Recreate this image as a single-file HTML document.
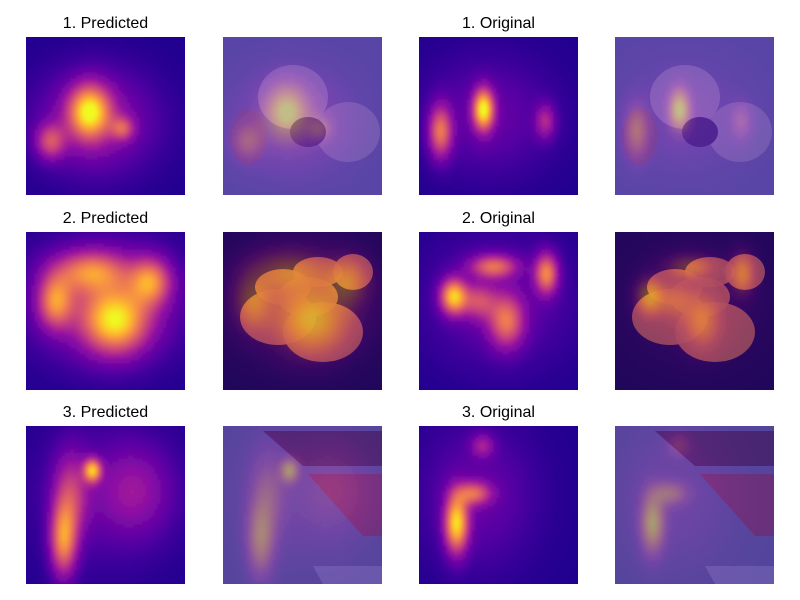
<!DOCTYPE html>
<html><head><meta charset="utf-8"><style>
html,body{margin:0;padding:0;background:#fff;width:800px;height:600px;overflow:hidden;font-family:"Liberation Sans",sans-serif;}
</style></head><body>
<svg id="fig" width="800" height="600" viewBox="0 0 800 600" xmlns="http://www.w3.org/2000/svg">
<defs id="defs"><filter id="soft" x="-10%" y="-10%" width="120%" height="120%"><feGaussianBlur stdDeviation="1.2"/></filter></defs>
</svg>
<script>
const colX = [26, 223, 419, 615];
const rowY = [37, 232, 426];
const W = 159, H = 158;
const titles = ["1. Predicted","1. Original","2. Predicted","2. Original","3. Predicted","3. Original"];
// heatmap blobs (gaussian): panel index 0..5 = P1,O1,P2,O2,P3,O3
const blobPanel = [0,0,0,0, 1,1,1,1, 2,2,2,2,2, 3,3,3,3,3,3, 4,4,4,4,4, 5,5,5,5];
const blobCx = [64,70,25,97, 65,22,127,70, 30,65,125,90,80, 35,75,128,88,60,80, 67,38,45,110,80, 38,55,64,60];
const blobCy = [75,85,105,92, 73,95,85,80, 70,40,50,90,70, 65,35,42,90,70,70, 45,115,70,65,70, 98,68,20,70];
const blobSx = [14,40,10,8, 7,8,7,45, 12,25,14,22,50, 9,16,8,12,12,50, 6,9,12,25,50, 8,12,8,40];
const blobSy = [18,35,12,8, 14,18,12,40, 18,14,16,22,40, 12,8,14,18,12,45, 8,25,30,30,50, 20,8,8,50];
const blobI  = [0.75,0.28,0.4,0.35, 0.85,0.55,0.3,0.15, 0.55,0.5,0.55,0.7,0.3, 0.75,0.5,0.6,0.5,0.35,0.15, 0.7,0.6,0.35,0.2,0.12, 0.8,0.45,0.25,0.15];
const baseLevel = 0.04;

const NS="http://www.w3.org/2000/svg";
const svg=document.getElementById('fig');
function plasma(t){
  const s=[[13,8,135],[84,2,163],[139,10,165],[185,50,137],[219,92,104],[244,136,73],[254,188,43],[240,249,33]];
  t=Math.min(1,Math.max(0,t));
  const p=Math.min(6.999,t*7), i=Math.floor(p), f=p-i;
  const c=s[i].map((v,k)=>Math.round(v+(s[i+1][k]-v)*f));
  return `rgb(${c[0]},${c[1]},${c[2]})`;
}
function mk(tag,attrs){const e=document.createElementNS(NS,tag);for(const k in attrs)e.setAttribute(k,attrs[k]);return e;}
function field(p,x,y){
  let v=baseLevel;
  for(let i=0;i<blobI.length;i++){
    if(blobPanel[i]!==p)continue;
    const dx=(x-blobCx[i])/blobSx[i], dy=(y-blobCy[i])/blobSy[i];
    v+=blobI[i]*Math.exp(-0.5*(dx*dx+dy*dy));
  }
  return v;
}

[[0,0],[0,2],[1,0],[1,2],[2,0],[2,2]].forEach(([r,c],i)=>{
  const t=mk('text',{x:colX[c]+W/2,y:rowY[r]-9,'text-anchor':'middle','font-size':'16',fill:'#000','font-family':'Liberation Sans, sans-serif'});
  t.textContent=titles[i];
  
  
  svg.appendChild(t);
});

const photoBg=['#7a70b4','#1e0c3a','#7470a4'];
for(let r=0;r<3;r++){
  for(const c of [1,3]){
    const g=mk('g',{});
    
    
    g.appendChild(mk('rect',{x:colX[c],y:rowY[r],width:W,height:H,fill:photoBg[r]}));
    const x=colX[c],y=rowY[r];
    if(r===0){
      g.appendChild(mk('ellipse',{cx:x+70,cy:y+60,rx:35,ry:32,fill:'#a698c8'}));
      g.appendChild(mk('ellipse',{cx:x+125,cy:y+95,rx:32,ry:30,fill:'#a092c4'}));
      g.appendChild(mk('ellipse',{cx:x+25,cy:y+100,rx:18,ry:28,fill:'#8a6c98'}));
      g.appendChild(mk('ellipse',{cx:x+85,cy:y+95,rx:18,ry:15,fill:'#4a3c8a'}));
    } else if(r===1){
      [[60,55,28,18],[95,40,25,15],[130,40,20,18],[55,85,38,28],[100,100,40,30],[85,65,30,20]].forEach(a=>{
        g.appendChild(mk('ellipse',{cx:x+a[0],cy:y+a[1],rx:a[2],ry:a[3],fill:'#d2783a',opacity:0.9}));
      });
    } else {
      g.appendChild(mk('polygon',{points:`${x+40},${y+5} ${x+159},${y+5} ${x+159},${y+40} ${x+80},${y+40}`,fill:'#5e3e60'}));
      g.appendChild(mk('polygon',{points:`${x+85},${y+48} ${x+159},${y+48} ${x+159},${y+110} ${x+140},${y+110}`,fill:'#94506e'}));
      g.appendChild(mk('polygon',{points:`${x+90},${y+140} ${x+159},${y+140} ${x+159},${y+158} ${x+100},${y+158}`,fill:'#9490bc'}));
    }
    svg.appendChild(g);
  }
}

const cell=3;
const panelPos=[[0,0],[0,2],[1,0],[1,2],[2,0],[2,2]];
panelPos.forEach(([r,c],p)=>{
  for(const target of [c,c+1]){
    const cp=mk('clipPath',{id:`cp${p}_${target}`});
    cp.appendChild(mk('rect',{x:colX[target],y:rowY[r],width:W,height:H}));
    document.getElementById('defs').appendChild(cp);
    const outer=mk('g',{'clip-path':`url(#cp${p}_${target})`});
    const g=mk('g',{filter:'url(#soft)',opacity:target===c?1:0.38});
    
    
    for(let yy=-6;yy<H+6;yy+=cell){
      for(let xx=-6;xx<W+6;xx+=cell){
        const v=field(p,xx+cell/2,yy+cell/2);
        const rc=mk('rect',{x:colX[target]+xx-0.5,y:rowY[r]+yy-0.5,width:cell+1,height:cell+1,fill:plasma(v)});
        g.appendChild(rc);
      }
    }
    outer.appendChild(g);
    svg.appendChild(outer);
  }
});
</script>
</body></html>
